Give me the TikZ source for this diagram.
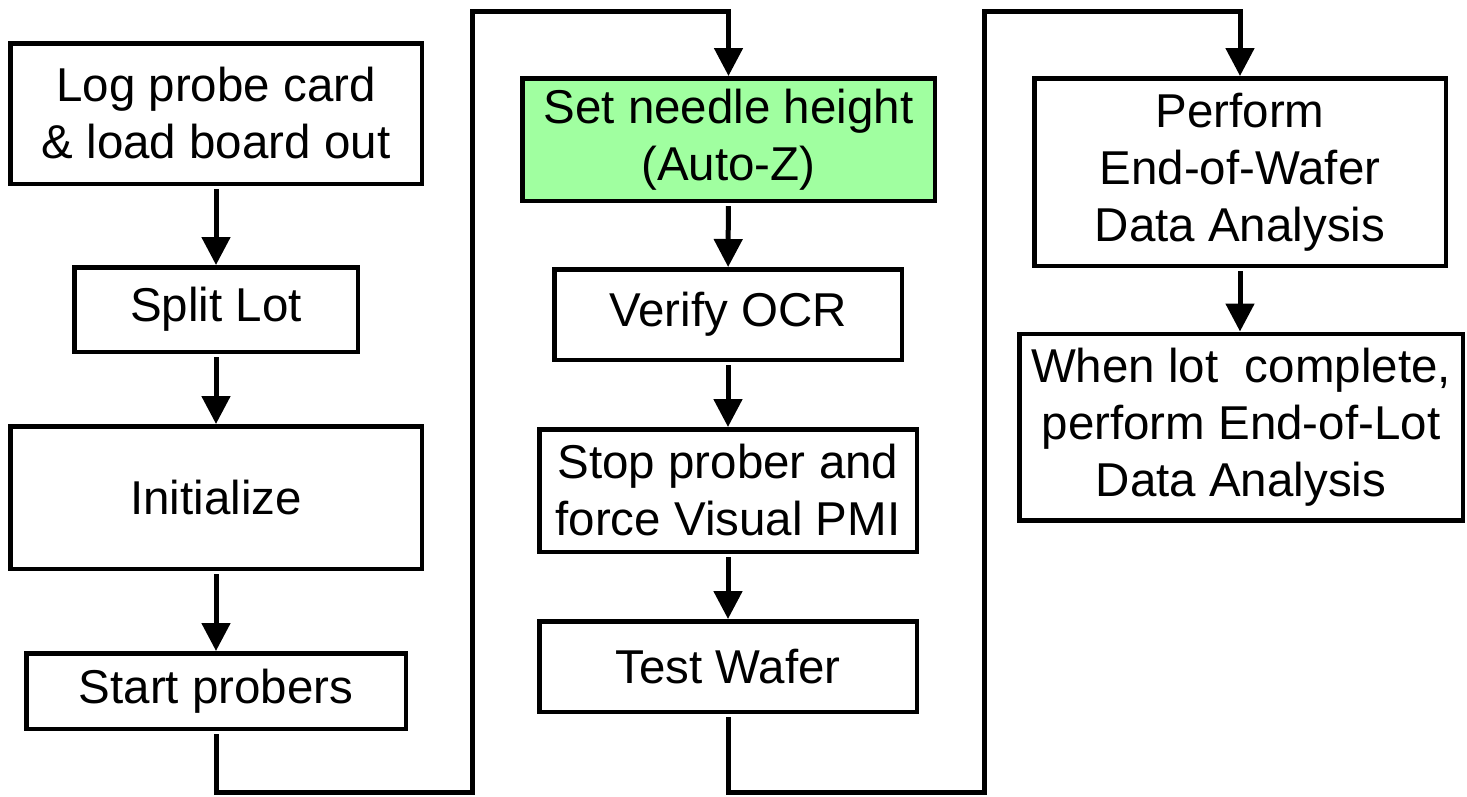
\documentclass[tikz,border=0pt]{standalone}
\usepackage{fontspec}
\setmainfont{Liberation Sans}
\usetikzlibrary{arrows.meta}
\definecolor{boxgreen}{RGB}{160,255,160}
\begin{document}
\begin{tikzpicture}[x=1pt,y=-1pt,
  box/.style={draw=black, line width=4.5pt, fill=white, align=center, inner sep=0pt,
              font=\fontsize{47.5}{57}\selectfont},
  conn/.style={line width=5pt},
  arr/.style={line width=5pt, -{Triangle[width=28pt,length=28pt]}, shorten <=3pt},
]
\useasboundingbox (0,0) rectangle (1467,796);
% column 1
\node[box, minimum width=411.5pt, minimum height=140.5pt] (log) at (216,113.5) {Log probe card\\\& load board out};
\node[box, minimum width=283.5pt, minimum height=84.5pt] (split) at (216,309.5) {Split Lot};
\node[box, minimum width=411.5pt, minimum height=142.5pt] (init) at (216,497.5) {Initialize};
\node[box, minimum width=379.5pt, minimum height=75.5pt] (start) at (216,691) {Start probers};
% column 2
\node[box, fill=boxgreen, minimum width=412.5pt, minimum height=122.5pt] (setz) at (728.5,139.5) {Set needle height\\(Auto-Z)};
\node[box, minimum width=347.5pt, minimum height=90.5pt] (ocr) at (728,314.5) {Verify OCR};
\node[box, minimum width=377.5pt, minimum height=122.5pt] (stop) at (728,490.5) {Stop prober and\\force Visual PMI};
\node[box, minimum width=377.5pt, minimum height=90.5pt] (test) at (728,666.5) {Test Wafer};
% column 3
\node[box, minimum width=411.5pt, minimum height=187.5pt] (perf) at (1240,172) {Perform\\End-of-Wafer\\Data Analysis};
\node[box, minimum width=443.5pt, minimum height=186.5pt] (when) at (1241,427) {When lot~ complete,\\perform End-of-Lot\\Data Analysis};
% helper coordinates
\coordinate (b1) at (472,792);
\coordinate (t1) at (472,11);
\coordinate (b2) at (984,792);
\coordinate (t2) at (984,11);
% arrows
\draw[arr] (log) -- (split);
\draw[arr] (split) -- (init);
\draw[arr] (init) -- (start);
\draw[arr] (setz) -- (ocr);
\draw[arr] (ocr) -- (stop);
\draw[arr] (stop) -- (test);
\draw[arr] (perf.south) -- (perf.south |- when.north);
% long connectors
\draw[arr] (start.south) |- (b1) -- (t1) -| (setz.north);
\draw[arr] (test.south) |- (b2) -- (t2) -| (perf.north);
\end{tikzpicture}
\end{document}
